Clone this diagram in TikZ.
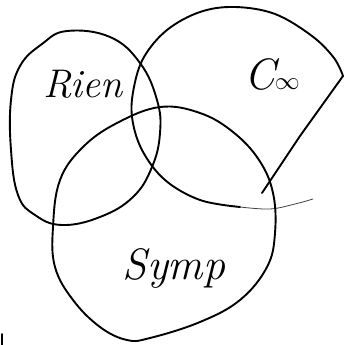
\documentclass[tikz,border=0pt]{standalone}
\begin{document}
\begin{tikzpicture}[x=1pt,y=-1pt,
  blob/.style={draw=black,line width=1.9pt,line join=round,line cap=round},
  thinblob/.style={draw=black!75,line width=0.8pt,line cap=round},
  hand/.style={font=\fontsize{44}{44}\selectfont\itshape,inner sep=0pt}]
\useasboundingbox (0,0) rectangle (344,345);
% Rien blob
\draw[blob] plot[smooth cycle,tension=0.7] coordinates {
  (42,44) (67,31) (110,37) (140,63) (157,100) (160,133) (152,167)
  (133,197) (100,217) (62,225) (35,215) (18,195) (11,150) (11,100) (20,66)};
% C-infinity blob (open: diagonal right side and thin bottom tail)
\draw[blob] plot[smooth,tension=0.6] coordinates {
  (240,207) (200,200) (165,180) (142,150) (132,117) (134,87) (144,57)
  (167,30) (200,12) (235,7) (275,14) (312,36) (334,58) (343,76)};
\draw[blob] (343,76) -- (300,136) -- (262,193);
\draw[thinblob] plot[smooth,tension=0.6] coordinates {(240,207) (270,209) (295,204) (313,199)};
% Symp blob
\draw[blob] plot[smooth cycle,tension=0.65] coordinates {
  (160,107) (200,113) (233,132) (259,160) (273,193) (275,233) (267,267)
  (240,300) (200,322) (150,338) (127,340) (100,327) (73,300) (55,267)
  (53,227) (60,180) (83,147) (117,123)};
% small stroke bottom-left
\draw[blob] (2,334) -- (2,345);
% labels
\node[hand,font=\fontsize{40}{40}\selectfont\itshape] (rien) at (83,84) {Rien};
\node[hand] (cinf) at (272,74) {C$\infty$};
\node[hand] (symp) at (174,268) {Symp};
\end{tikzpicture}
\end{document}
